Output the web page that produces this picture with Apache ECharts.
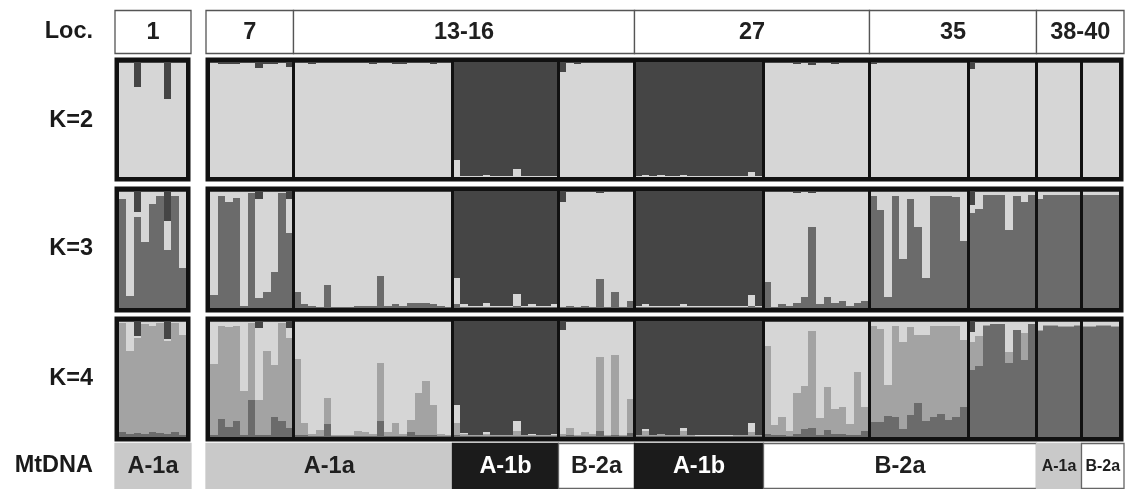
<!DOCTYPE html>
<html><head><meta charset="utf-8">
<script src="https://cdn.jsdelivr.net/npm/echarts@6/dist/echarts.min.js"></script>
<style>html,body{margin:0;padding:0;background:#fff}#c{width:1128px;height:489px}</style>
</head><body><div id="c"></div>
<script>
// ---------- structure of the plot ----------
const rowLabels = ['Loc.', 'K=2', 'K=3', 'K=4', 'MtDNA'];
const leftGroupSizes = [9];                                   // locality 1
const rightGroupSizes = [11, 21, 14, 10, 17, 14, 13, 9, 6, 5]; // 7 | 13-16 (3) | 27 (2) | 35 (2) | 38-40 (2)
const locLabelsLeft = ['1'];
const locLabelsRight = ['7', '13-16', '27', '35', '38-40'];
const locGroupsRight = [[0], [1, 2, 3], [4, 5], [6, 7], [8, 9]];
const mtLabelsLeft = ['A-1a'];
const mtLabelsRight = ['A-1a', 'A-1b', 'B-2a', 'A-1b', 'B-2a', 'A-1a', 'B-2a'];
const mtGroupsRight = [[0, 1], [2], [3], [4], [5, 6, 7], [8], [9]];

// ---------- membership proportions (individuals in order: loc1, 7, 13-16a,b,c, 27a,b, 35a,b, 38-40a,b) ----------
// K = 2 (stack bottom->top: light, dark)
const k2_light = [
 0.99,0.99,0.78,0.99,0.99,0.99,0.68,0.99,0.99,
 0.99,0.98,0.98,0.98,0.99,0.99,0.95,0.98,0.98,0.99,0.96,
 0.99,0.99,0.98,0.99,0.99,0.99,0.99,0.99,0.99,0.99,0.98,0.99,0.99,0.98,0.98,0.99,0.99,0.99,0.98,0.99,0.99,
 0.15,0.01,0.01,0.01,0.02,0.01,0.01,0.01,0.07,0.01,0.01,0.01,0.01,0.01,
 0.91,0.99,0.98,0.99,0.99,0.99,0.99,0.99,0.99,0.99,
 0.01,0.015,0.01,0.015,0.01,0.01,0.02,0.01,0.01,0.01,0.01,0.01,0.01,0.01,0.01,0.045,0.01,
 0.99,0.99,0.99,0.99,0.985,0.99,0.97,0.99,0.99,0.985,0.99,0.99,0.99,0.99,
 0.98,0.99,0.99,0.99,0.99,0.99,0.99,0.99,0.99,0.99,0.99,0.99,0.99,
 0.94,0.99,0.99,0.99,0.99,0.99,0.99,0.99,0.99,
 0.99,0.99,0.99,0.99,0.99,0.99,
 0.99,0.99,0.99,0.99,0.99
];
const k2_dark = [
 0.01,0.01,0.22,0.01,0.01,0.01,0.32,0.01,0.01,
 0.01,0.02,0.02,0.02,0.01,0.01,0.05,0.02,0.02,0.01,0.04,
 0.01,0.01,0.02,0.01,0.01,0.01,0.01,0.01,0.01,0.01,0.02,0.01,0.01,0.02,0.02,0.01,0.01,0.01,0.02,0.01,0.01,
 0.85,0.99,0.99,0.99,0.98,0.99,0.99,0.99,0.93,0.99,0.99,0.99,0.99,0.99,
 0.09,0.01,0.02,0.01,0.01,0.01,0.01,0.01,0.01,0.01,
 0.99,0.985,0.99,0.985,0.99,0.99,0.98,0.99,0.99,0.99,0.99,0.99,0.99,0.99,0.99,0.955,0.99,
 0.01,0.01,0.01,0.01,0.015,0.01,0.03,0.01,0.01,0.015,0.01,0.01,0.01,0.01,
 0.02,0.01,0.01,0.01,0.01,0.01,0.01,0.01,0.01,0.01,0.01,0.01,0.01,
 0.06,0.01,0.01,0.01,0.01,0.01,0.01,0.01,0.01,
 0.01,0.01,0.01,0.01,0.01,0.01,
 0.01,0.01,0.01,0.01,0.01
];
// K = 3 (stack bottom->top: mid, light, dark)
const k3_mid = [
 0.93,0.10,0.78,0.56,0.89,0.96,0.50,0.96,0.34,
 0.11,0.96,0.91,0.94,0.02,0.98,0.085,0.14,0.31,0.98,0.64,
 0.14,0.03,0.015,0.01,0.20,0.005,0.005,0.005,0.015,0.015,0.015,0.27,0.015,0.03,0.015,0.04,0.04,0.04,0.03,0.015,0.01,
 0.03,0.01,0.005,0.005,0.01,0.005,0.005,0.005,0.02,0.005,0.01,0.005,0.005,0.01,
 0.01,0.02,0.005,0.015,0.005,0.25,0.005,0.14,0.005,0.06,
 0.005,0.005,0.005,0.005,0.005,0.005,0.005,0.005,0.005,0.005,0.005,0.005,0.005,0.005,0.005,0.02,0.005,
 0.22,0.01,0.03,0.02,0.04,0.09,0.69,0.03,0.09,0.04,0.06,0.02,0.04,0.06,
 0.96,0.84,0.09,0.96,0.42,0.93,0.69,0.26,0.96,0.96,0.96,0.95,0.57,
 0.81,0.85,0.97,0.97,0.97,0.67,0.96,0.91,0.97,
 0.93,0.97,0.97,0.97,0.97,0.97,
 0.97,0.97,0.97,0.97,0.97
];
const k3_light = [
 0.06,0.89,0.04,0.43,0.10,0.03,0.24,0.03,0.65,
 0.88,0.03,0.08,0.05,0.97,0.01,0.85,0.85,0.68,0.01,0.295,
 0.85,0.96,0.975,0.98,0.79,0.985,0.985,0.985,0.975,0.975,0.975,0.72,0.975,0.96,0.975,0.95,0.95,0.95,0.96,0.975,0.98,
 0.23,0.02,0.01,0.01,0.03,0.01,0.01,0.01,0.10,0.01,0.02,0.01,0.01,0.02,
 0.90,0.97,0.985,0.975,0.985,0.735,0.985,0.85,0.985,0.93,
 0.01,0.03,0.01,0.015,0.01,0.01,0.03,0.01,0.01,0.01,0.01,0.01,0.01,0.01,0.01,0.09,0.01,
 0.77,0.98,0.96,0.97,0.945,0.90,0.29,0.96,0.90,0.95,0.93,0.97,0.95,0.93,
 0.03,0.15,0.90,0.03,0.57,0.06,0.30,0.73,0.03,0.03,0.03,0.04,0.42,
 0.07,0.14,0.02,0.02,0.02,0.32,0.03,0.08,0.02,
 0.06,0.02,0.02,0.02,0.02,0.02,
 0.02,0.02,0.02,0.02,0.02
];
const k3_dark = [
 0.01,0.01,0.18,0.01,0.01,0.01,0.26,0.01,0.01,
 0.01,0.01,0.01,0.01,0.01,0.01,0.065,0.01,0.01,0.01,0.065,
 0.01,0.01,0.01,0.01,0.01,0.01,0.01,0.01,0.01,0.01,0.01,0.01,0.01,0.01,0.01,0.01,0.01,0.01,0.01,0.01,0.01,
 0.74,0.97,0.985,0.985,0.96,0.985,0.985,0.985,0.88,0.985,0.97,0.985,0.985,0.97,
 0.09,0.01,0.01,0.01,0.01,0.015,0.01,0.01,0.01,0.01,
 0.985,0.965,0.985,0.98,0.985,0.985,0.965,0.985,0.985,0.985,0.985,0.985,0.985,0.985,0.985,0.89,0.985,
 0.01,0.01,0.01,0.01,0.015,0.01,0.02,0.01,0.01,0.01,0.01,0.01,0.01,0.01,
 0.01,0.01,0.01,0.01,0.01,0.01,0.01,0.01,0.01,0.01,0.01,0.01,0.01,
 0.12,0.01,0.01,0.01,0.01,0.01,0.01,0.01,0.01,
 0.01,0.01,0.01,0.01,0.01,0.01,
 0.01,0.01,0.01,0.01,0.01
];
// K = 4 (stack bottom->top: mid, mid-light, light, dark)
const k4_mid = [
 0.04,0.03,0.035,0.03,0.04,0.035,0.025,0.04,0.02,
 0.02,0.155,0.086,0.135,0.02,0.315,0.02,0.02,0.17,0.135,0.08,
 0.02,0.02,0.01,0.01,0.11,0.005,0.005,0.005,0.01,0.01,0.01,0.14,0.01,0.01,0.01,0.04,0.02,0.02,0.02,0.01,0.01,
 0.02,0.005,0.005,0.005,0.005,0.005,0.005,0.005,0.01,0.005,0.005,0.005,0.005,0.005,
 0.01,0.02,0.005,0.01,0.005,0.05,0.005,0.02,0.005,0.035,
 0.005,0.005,0.005,0.005,0.005,0.005,0.005,0.005,0.005,0.005,0.005,0.005,0.005,0.005,0.005,0.01,0.005,
 0.03,0.02,0.02,0.01,0.03,0.07,0.08,0.02,0.06,0.03,0.03,0.02,0.02,0.05,
 0.13,0.13,0.18,0.17,0.07,0.19,0.29,0.14,0.17,0.20,0.15,0.17,0.26,
 0.58,0.61,0.96,0.97,0.97,0.64,0.92,0.66,0.97,
 0.91,0.96,0.96,0.95,0.95,0.96,
 0.95,0.95,0.96,0.96,0.95
];
const k4_midlight = [
 0.94,0.71,0.82,0.94,0.92,0.95,0.80,0.94,0.86,
 0.61,0.80,0.865,0.82,0.38,0.665,0.30,0.725,0.45,0.845,0.775,
 0.65,0.10,0.02,0.05,0.23,0.01,0.01,0.01,0.04,0.03,0.02,0.50,0.03,0.11,0.02,0.105,0.36,0.46,0.26,0.02,0.01,
 0.10,0.02,0.01,0.01,0.02,0.01,0.01,0.01,0.04,0.01,0.01,0.01,0.01,0.01,
 0.02,0.06,0.01,0.03,0.02,0.64,0.01,0.69,0.01,0.29,
 0.01,0.05,0.01,0.02,0.01,0.01,0.045,0.01,0.005,0.005,0.005,0.005,0.005,0.01,0.01,0.03,0.01,
 0.755,0.08,0.15,0.04,0.35,0.37,0.83,0.14,0.375,0.21,0.23,0.09,0.54,0.21,
 0.83,0.80,0.27,0.79,0.75,0.76,0.59,0.74,0.79,0.76,0.81,0.79,0.58,
 0.24,0.26,0.005,0.005,0.005,0.09,0.005,0.24,0.005,
 0.01,0.005,0.005,0.01,0.01,0.005,
 0.01,0.01,0.005,0.005,0.01
];
const k4_light = [
 0.01,0.25,0.02,0.02,0.03,0.01,0.02,0.01,0.11,
 0.36,0.035,0.04,0.035,0.59,0.01,0.62,0.245,0.37,0.01,0.085,
 0.32,0.87,0.96,0.93,0.65,0.975,0.975,0.975,0.94,0.95,0.96,0.35,0.95,0.87,0.96,0.845,0.61,0.51,0.71,0.96,0.97,
 0.16,0.01,0.005,0.005,0.02,0.005,0.005,0.005,0.09,0.005,0.015,0.005,0.005,0.01,
 0.89,0.91,0.975,0.95,0.965,0.30,0.975,0.28,0.975,0.665,
 0.005,0.01,0.005,0.005,0.005,0.005,0.03,0.005,0.005,0.005,0.005,0.005,0.005,0.005,0.005,0.08,0.005,
 0.205,0.89,0.82,0.94,0.61,0.55,0.08,0.83,0.555,0.75,0.73,0.88,0.43,0.73,
 0.03,0.06,0.54,0.03,0.17,0.04,0.11,0.11,0.03,0.03,0.03,0.03,0.15,
 0.085,0.12,0.025,0.015,0.015,0.26,0.065,0.09,0.015,
 0.07,0.025,0.025,0.03,0.03,0.025,
 0.03,0.03,0.025,0.025,0.03
];
const k4_dark = [
 0.01,0.01,0.125,0.01,0.01,0.005,0.155,0.01,0.01,
 0.01,0.01,0.009,0.01,0.01,0.01,0.06,0.01,0.01,0.01,0.06,
 0.01,0.01,0.01,0.01,0.01,0.01,0.01,0.01,0.01,0.01,0.01,0.01,0.01,0.01,0.01,0.01,0.01,0.01,0.01,0.01,0.01,
 0.72,0.965,0.98,0.98,0.955,0.98,0.98,0.98,0.86,0.98,0.97,0.98,0.98,0.975,
 0.08,0.01,0.01,0.01,0.01,0.01,0.01,0.01,0.01,0.01,
 0.98,0.935,0.98,0.97,0.98,0.98,0.92,0.98,0.985,0.985,0.985,0.985,0.985,0.98,0.98,0.88,0.98,
 0.01,0.01,0.01,0.01,0.01,0.01,0.01,0.01,0.01,0.01,0.01,0.01,0.01,0.01,
 0.01,0.01,0.01,0.01,0.01,0.01,0.01,0.01,0.01,0.01,0.01,0.01,0.01,
 0.095,0.01,0.01,0.01,0.01,0.01,0.01,0.01,0.01,
 0.01,0.01,0.01,0.01,0.01,0.01,
 0.01,0.01,0.01,0.01,0.01
];

// ---------- styling ----------
const COL = {L:'#d6d6d6', D:'#454545', M:'#6b6b6b', ML:'#a3a3a3'};
const palette = [COL.L, COL.D, COL.M, COL.ML];
const FONT = '"Liberation Sans", Arial, Helvetica, sans-serif';
const FRAME = 4.5;

const rows = [
  {top: 62,  height: 115, stack: [[k2_light,0],[k2_dark,1]]},
  {top: 191, height: 117, stack: [[k3_mid,2],[k3_light,0],[k3_dark,1]]},
  {top: 321, height: 116, stack: [[k4_mid,2],[k4_midlight,3],[k4_light,0],[k4_dark,1]]}
];
const sum = a => a.reduce((s, v) => s + v, 0);
const sides = [
  {left: 119, width: 67,  start: 0, sizes: leftGroupSizes},
  {left: 210, width: 909, start: sum(leftGroupSizes), sizes: rightGroupSizes}
];

const grids = [], xAxes = [], yAxes = [], series = [];
function addGrid(left, top, width, height, n) {
  const gi = grids.length;
  grids.push({left, top, width, height, show: false});
  xAxes.push({gridIndex: gi, type: 'value', min: 0, max: n, show: false});
  yAxes.push({gridIndex: gi, type: 'value', min: 0, max: 1, show: false});
  return gi;
}

function renderBar(params, api) {
  const x = api.value(0), y0 = api.value(1), y1 = api.value(2), ci = api.value(3);
  const a = api.coord([x, y1]), b = api.coord([x + 1, y0]);
  const x0 = Math.round(a[0]), x1 = Math.round(b[0]);
  const yt = Math.round(a[1]), yb = Math.round(b[1]);
  if (yb <= yt) return null;
  return {type: 'rect', shape: {x: x0, y: yt, width: x1 - x0, height: yb - yt},
          style: {fill: palette[ci]}};
}
function renderDivider(params, api) {
  const cs = params.coordSys;
  const p = api.coord([api.value(0), 0]);
  const x = Math.round(p[0]) + 0.5;
  return {type: 'line', shape: {x1: x, y1: cs.y - 1, x2: x, y2: cs.y + cs.height + 1},
          style: {stroke: '#111', lineWidth: 3}};
}
function renderFrame(params) {
  const cs = params.coordSys;
  return {type: 'rect', shape: {x: cs.x - FRAME / 2, y: cs.y - FRAME / 2, width: cs.width + FRAME, height: cs.height + FRAME},
          style: {fill: 'none', stroke: '#111', lineWidth: FRAME}};
}

rows.forEach(row => {
  sides.forEach(side => {
    const n = sum(side.sizes);
    const gi = addGrid(side.left, row.top, side.width, row.height, n);
    const data = [];
    for (let i = 0; i < n; i++) {
      let acc = 0;
      row.stack.forEach(([arr, ci]) => {
        const v = arr[side.start + i];
        data.push([i, acc, acc + v, ci]);
        acc += v;
      });
    }
    series.push({type: 'custom', xAxisIndex: gi, yAxisIndex: gi, silent: true, z: 2,
      dimensions: ['x', 'y0', 'y1', 'c'], encode: {x: 0, y: [1, 2]}, renderItem: renderBar, data});
    const bounds = [];
    let c = 0;
    side.sizes.slice(0, -1).forEach(s => { c += s; bounds.push([c, 0]); });
    if (bounds.length) {
      series.push({type: 'custom', xAxisIndex: gi, yAxisIndex: gi, silent: true, z: 3,
        renderItem: renderDivider, data: bounds});
    }
    series.push({type: 'custom', xAxisIndex: gi, yAxisIndex: gi, silent: true, z: 4,
      renderItem: renderFrame, data: [[0, 0]]});
  });
});

// ---------- Loc. and MtDNA boxes ----------
function groupSpans(sizes, groups) {
  const starts = [0];
  sizes.forEach(s => starts.push(starts[starts.length - 1] + s));
  return groups.map((g, k) => [starts[g[0]], starts[g[g.length - 1] + 1], k]);
}
function mtStyle(label) {
  if (label === 'A-1a') return {fill: '#c9c9c9', stroke: '#c9c9c9', text: '#1f1f1f'};
  if (label === 'A-1b') return {fill: '#1b1b1b', stroke: '#1b1b1b', text: '#ffffff'};
  return {fill: '#ffffff', stroke: '#666666', text: '#1f1f1f'};
}
function makeBoxRender(total, labels, kind) {
  return function (params, api) {
    const u0 = api.value(0), u1 = api.value(1), k = api.value(2);
    const a = api.coord([u0, 1]), b = api.coord([u1, 0]);
    let x0 = Math.round(a[0]) + 0.5, x1 = Math.round(b[0]) + 0.5;
    if (u0 === 0) x0 -= FRAME;
    if (u1 === total) x1 += FRAME;
    const label = labels[k];
    let st, fs;
    if (kind === 'loc') { st = {fill: '#fff', stroke: '#555', text: '#1f1f1f'}; fs = 23.5; }
    else { st = mtStyle(label); fs = (x1 - x0) < 60 ? 16 : 23.5; }
    return {type: 'group', children: [
      {type: 'rect', shape: {x: x0, y: Math.round(a[1]) + 0.5, width: x1 - x0, height: Math.round(b[1] - a[1])},
       style: {fill: st.fill, stroke: st.stroke, lineWidth: 1.3}},
      {type: 'text', x: (x0 + x1) / 2, y: (a[1] + b[1]) / 2 + 1,
       style: {text: label, fill: st.text, font: 'bold ' + fs + 'px ' + FONT,
               textAlign: 'center', textVerticalAlign: 'middle'}}
    ]};
  };
}
[
  {top: 10, height: 43, kind: 'loc', left: [locLabelsLeft, [[0]]], right: [locLabelsRight, locGroupsRight]},
  {top: 443, height: 45, kind: 'mt', left: [mtLabelsLeft, [[0]]], right: [mtLabelsRight, mtGroupsRight]}
].forEach(r => {
  sides.forEach((side, si) => {
    const n = sum(side.sizes);
    const gi = addGrid(side.left, r.top, side.width, r.height, n);
    const [labels, groups] = si === 0 ? r.left : r.right;
    series.push({type: 'custom', xAxisIndex: gi, yAxisIndex: gi, silent: true, z: 2,
      renderItem: makeBoxRender(n, labels, r.kind), data: groupSpans(side.sizes, groups)});
  });
});

// ---------- row labels ----------
const labelY = [32, 121, 249, 379, 466];
const graphic = rowLabels.map((t, i) => ({
  type: 'text', x: 93, y: labelY[i],
  style: {text: t, fill: '#1a1a1a', font: 'bold 23.5px ' + FONT, textAlign: 'right', textVerticalAlign: 'middle'}
}));

const chart = echarts.init(document.getElementById('c'), null, {renderer: 'canvas'});
chart.setOption({
  animation: false,
  backgroundColor: '#ffffff',
  grid: grids, xAxis: xAxes, yAxis: yAxes, series, graphic
});
</script>
</body></html>
